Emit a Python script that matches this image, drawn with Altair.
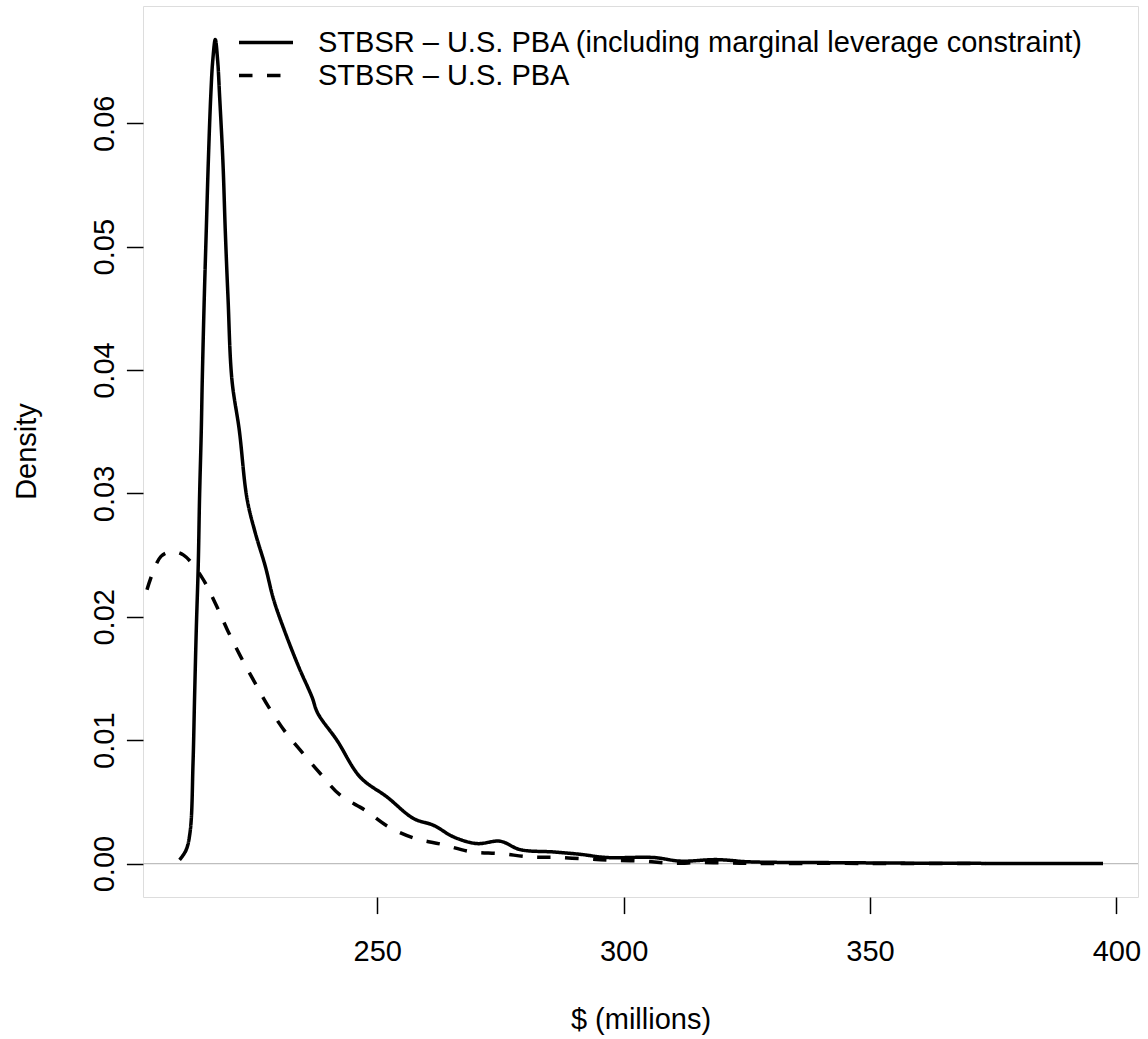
import altair as alt
import pandas as pd

# Series 1: STBSR - U.S. PBA (including marginal leverage constraint)  (solid)
solid_x = [209.87, 211.2, 212.05, 212.6, 212.92, 213.26, 213.67, 213.93, 214.28, 214.48,
           214.89, 215.29, 215.7, 216.2, 216.61, 217.12, 217.6, 218.0, 218.68, 219.15,
           219.7, 220.5, 222.0, 223.55, 225.24, 227.27, 228.96, 231.33, 234.1, 236.75,
           237.9, 241.8, 246.55, 251.97, 257.37, 261.43, 265.49, 270.2, 274.97, 279.0,
           285.8, 291.2, 296.6, 306.1, 311.5, 318.9, 325.0, 330.4, 340.0, 360.0, 380.0, 397.3]
solid_y = [0.0003, 0.0011, 0.0027, 0.0081, 0.0135, 0.0189, 0.0243, 0.0297, 0.0351, 0.0392,
           0.0459, 0.0513, 0.0568, 0.0622, 0.0651, 0.0668, 0.0651, 0.0622, 0.0568, 0.0513,
           0.0459, 0.0392, 0.0351, 0.0296, 0.0268, 0.0241, 0.0214, 0.0187, 0.0159, 0.0135,
           0.0122, 0.0100, 0.0070, 0.0054, 0.00365, 0.0031, 0.00216, 0.00162, 0.00181, 0.00113,
           0.00094, 0.00075, 0.00049, 0.00049, 0.0002, 0.00032, 0.00015, 0.0001, 0.00008, 0.00003,
           0.00001, 0.0]

# Series 2: STBSR - U.S. PBA  (dashed)
dashed_x = [203.26, 206.1, 208.33, 210.7, 214.4, 217.12, 219.62, 222.3, 225.24, 227.94,
            231.33, 234.37, 238.43, 242.49, 247.56, 252.3, 257.7, 263.1, 268.9, 274.97,
            281.05, 286.5, 292.6, 298.0, 304.05, 309.8, 315.6, 321.6, 327.1, 340.0, 355.0, 373.4]
dashed_y = [0.0222, 0.0249, 0.02527, 0.0250, 0.0232, 0.0211, 0.0189, 0.01675, 0.0146, 0.0127,
            0.01067, 0.00919, 0.0073, 0.00554, 0.00432, 0.00297, 0.00203, 0.00156, 0.00097, 0.00081,
            0.00054, 0.00050, 0.00037, 0.00027, 0.00019, 0.00002, 0.00008, 0.00005, 0.0, 0.00002, 0.0, 0.0]

series_names = ["STBSR \u2013 U.S. PBA (including marginal leverage constraint)",
                "STBSR \u2013 U.S. PBA"]

x_ticks = [250, 300, 350, 400]
y_ticks = [0.0, 0.01, 0.02, 0.03, 0.04, 0.05, 0.06]

x_domain = [202.45, 404.4]
y_domain = [-0.00271, 0.06951]

FONT = "Liberation Sans"
FS = 29

df = pd.concat([
    pd.DataFrame({"x": solid_x, "y": solid_y, "series": series_names[0], "order": range(len(solid_x))}),
    pd.DataFrame({"x": dashed_x, "y": dashed_y, "series": series_names[1], "order": range(len(dashed_x))}),
], ignore_index=True)

xscale = alt.Scale(domain=x_domain, nice=False, zero=False)
yscale = alt.Scale(domain=y_domain, nice=False, zero=False)

xaxis = alt.Axis(values=x_ticks, title="$ (millions)", domain=False, grid=False,
                 tickColor="black", tickSize=16.6, tickWidth=1.5,
                 labelFont=FONT, labelFontSize=FS, labelColor="black",
                 labelBaseline="alphabetic", labelPadding=46.4, labelFlush=False,
                 titleFont=FONT, titleFontSize=FS, titleFontWeight="normal", titleColor="black",
                 titleBaseline="alphabetic", titleY=131, titleX=497.5, titleAlign="center")
yaxis = alt.Axis(values=y_ticks, format=".2f", title="Density", domain=False, grid=False,
                 tickColor="black", tickSize=16.6, tickWidth=1.5,
                 labelFont=FONT, labelFontSize=FS, labelColor="black",
                 labelAngle=270, labelAlign="center", labelBaseline="alphabetic",
                 labelPadding=13, labelFlush=False,
                 titleFont=FONT, titleFontSize=FS, titleFontWeight="normal", titleColor="black",
                 titleAngle=270, titleBaseline="alphabetic", titleAlign="center",
                 titleX=-108, titleY=445)

zero_line = alt.Chart(pd.DataFrame({"y": [0.0]})).mark_rule(
    color="#bebebe", strokeWidth=1.2
).encode(y=alt.Y("y:Q", scale=yscale, axis=yaxis))

lines = alt.Chart(df).mark_line(
    color="black", strokeWidth=3.5, interpolate="catmull-rom", strokeJoin="round"
).encode(
    x=alt.X("x:Q", scale=xscale, axis=xaxis),
    y=alt.Y("y:Q", scale=yscale, axis=yaxis),
    order="order:Q",
    strokeDash=alt.StrokeDash(
        "series:N",
        scale=alt.Scale(domain=series_names, range=[[1, 0], [13.5, 14.5]]),
        legend=alt.Legend(title=None, orient="none", legendX=94, legendY=20,
                          symbolType="stroke", symbolSize=2916, symbolStrokeWidth=3.5,
                          symbolStrokeColor="black", labelFont=FONT, labelFontSize=FS,
                          labelColor="black", labelOffset=23, labelLimit=0,
                          clipHeight=33, rowPadding=0, padding=0,
                          labelBaseline="middle"),
    ),
)

chart = alt.layer(zero_line, lines).properties(
    width=995, height=891,
    autosize=alt.AutoSizeParams(type="none"),
    padding={"left": 143, "top": 6, "right": 10, "bottom": 142},
).configure_view(stroke="black", strokeWidth=2).configure(background="white")

chart.save("out.html", embed_options={"renderer": "svg", "actions": False})
